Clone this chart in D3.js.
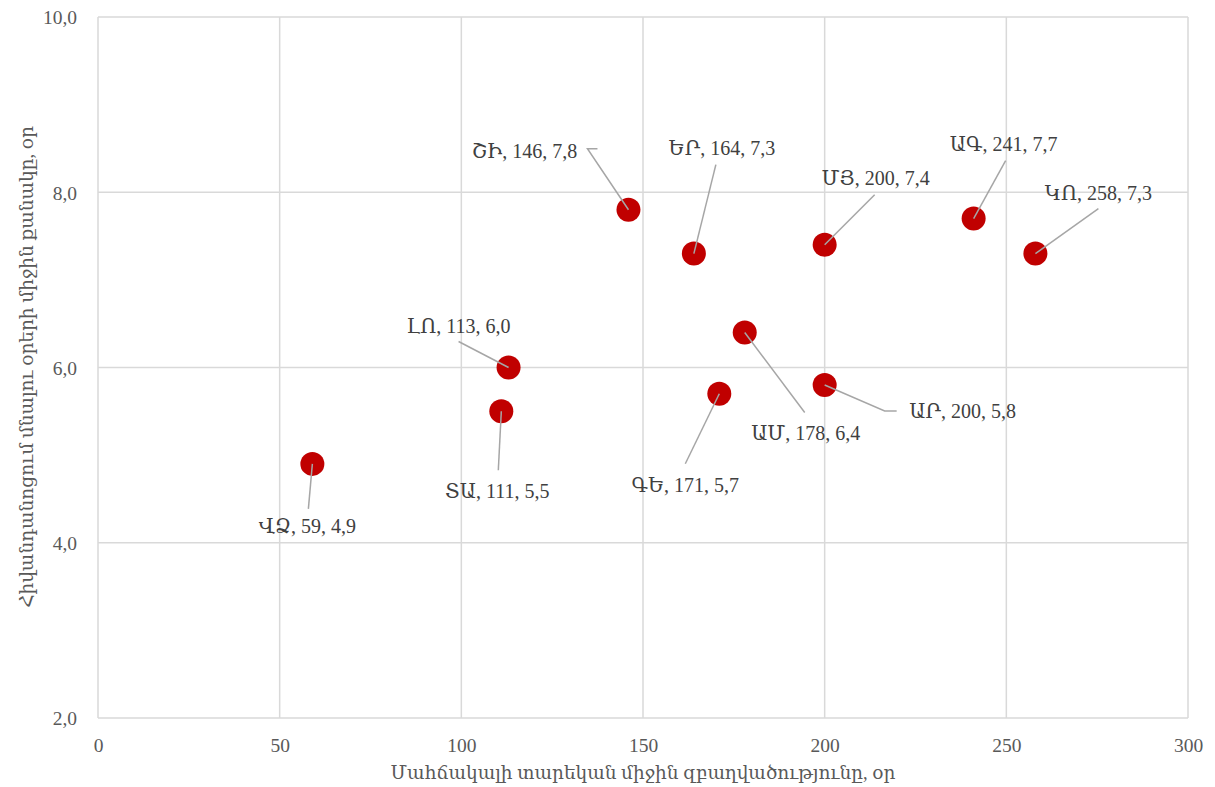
<!DOCTYPE html>
<html><head><meta charset="utf-8">
<script src="https://cdn.jsdelivr.net/npm/d3@7"></script>
<style>
body{margin:0;background:#fff;}
text{font-family:"Liberation Serif","DejaVu Serif",serif;}
</style></head>
<body><svg id="c" width="1215" height="787"></svg>
<script>
const names = ["ՇԻ","ԵՐ","ՄՅ","ԱԳ","ԿՈ","ԼՈ","ՏԱ","ԳԵ","ԱՄ","ԱՐ","ՎՁ"];
const occupancy = [146,164,200,241,258,113,111,171,178,200,59];
const stayDays = [7.8,7.3,7.4,7.7,7.3,6.0,5.5,5.7,6.4,5.8,4.9];
const xTicks = [0,50,100,150,200,250,300];
const yTicks = [2,4,6,8,10];
const xTitle = "Մահճակալի տարեկան միջին զբաղվածությունը, օր";
const yTitle = "Հիվանդանոցում մնալու օրերի միջին քանակը, օր";
// label layout: [text dx, text dy(baseline), leader dx, leader dy, elbow dx (or null)]
const labelLayout = [
  [-104,-52,-41,-61,-31],
  [28,-99,22,-89,null],
  [51,-60,50,-50,null],
  [30,-68,32,-58,null],
  [63,-54,63,-45,null],
  [-50,-35,-50,-26,null],
  [-4,87,-3,59,null],
  [-34,98,-34,70,null],
  [61,108,60,80,null],
  [138,33,60,26,72],
  [-5,69,-4,45,null]
];
const fmt = v => d3.format(".1f")(v).replace(".", ",");

const svg = d3.select("#c");
const x = d3.scaleLinear().domain([0,300]).range([98,1188]);
const y = d3.scaleLinear().domain([2,10]).range([718,17]);

// gridlines
svg.append("g").selectAll("line").data(xTicks).join("line")
  .attr("x1",d=>x(d)).attr("x2",d=>x(d)).attr("y1",y(10)).attr("y2",y(2))
  .attr("stroke","#d9d9d9").attr("stroke-width",1.5);
svg.append("g").selectAll("line").data(yTicks).join("line")
  .attr("y1",d=>y(d)).attr("y2",d=>y(d)).attr("x1",x(0)).attr("x2",x(300))
  .attr("stroke","#d9d9d9").attr("stroke-width",1.5);

// axes tick labels via d3 axes
const xa = svg.append("g").attr("transform",`translate(0,${y(2)})`)
  .call(d3.axisBottom(x).tickValues(xTicks).tickSize(0).tickPadding(20));
const ya = svg.append("g").attr("transform",`translate(${x(0)},0)`)
  .call(d3.axisLeft(y).tickValues(yTicks).tickFormat(fmt).tickSize(0).tickPadding(21));
[xa,ya].forEach(a=>{
  a.select(".domain").remove();
  a.selectAll("text").attr("fill","#595959").style("font-size","19.5px")
   .style("font-family",'"Liberation Serif","DejaVu Serif",serif');
});
ya.selectAll("text").attr("dy","0.35em");

// titles
svg.append("text").attr("x",643).attr("y",779).attr("text-anchor","middle")
  .attr("fill","#595959").style("font-size","18.5px").text(xTitle);
svg.append("text").attr("transform",`translate(33,${367}) rotate(-90)`)
  .attr("text-anchor","middle").attr("fill","#595959").style("font-size","18.5px").text(yTitle);

const data = names.map((n,i)=>({n, xv:occupancy[i], yv:stayDays[i], L:labelLayout[i]}));

// points
svg.append("g").selectAll("circle").data(data).join("circle")
  .attr("cx",d=>x(d.xv)).attr("cy",d=>y(d.yv)).attr("r",12).attr("fill","#c00000");

// leader lines
svg.append("g").selectAll("polyline").data(data).join("polyline")
  .attr("points",d=>{
    const px=x(d.xv), py=y(d.yv);
    const pts=[[px,py],[px+d.L[2],py+d.L[3]]];
    if(d.L[4]!==null) pts.push([px+d.L[4],py+d.L[3]]);
    return pts.map(p=>p.join(",")).join(" ");
  })
  .attr("fill","none").attr("stroke","#a6a6a6").attr("stroke-width",1.5);

// labels
svg.append("g").selectAll("text").data(data).join("text")
  .attr("x",d=>x(d.xv)+d.L[0]).attr("y",d=>y(d.yv)+d.L[1])
  .attr("text-anchor","middle").attr("fill","#404040").style("font-size","20px")
  .text(d=>`${d.n}, ${d.xv}, ${fmt(d.yv)}`);
</script></body></html>
